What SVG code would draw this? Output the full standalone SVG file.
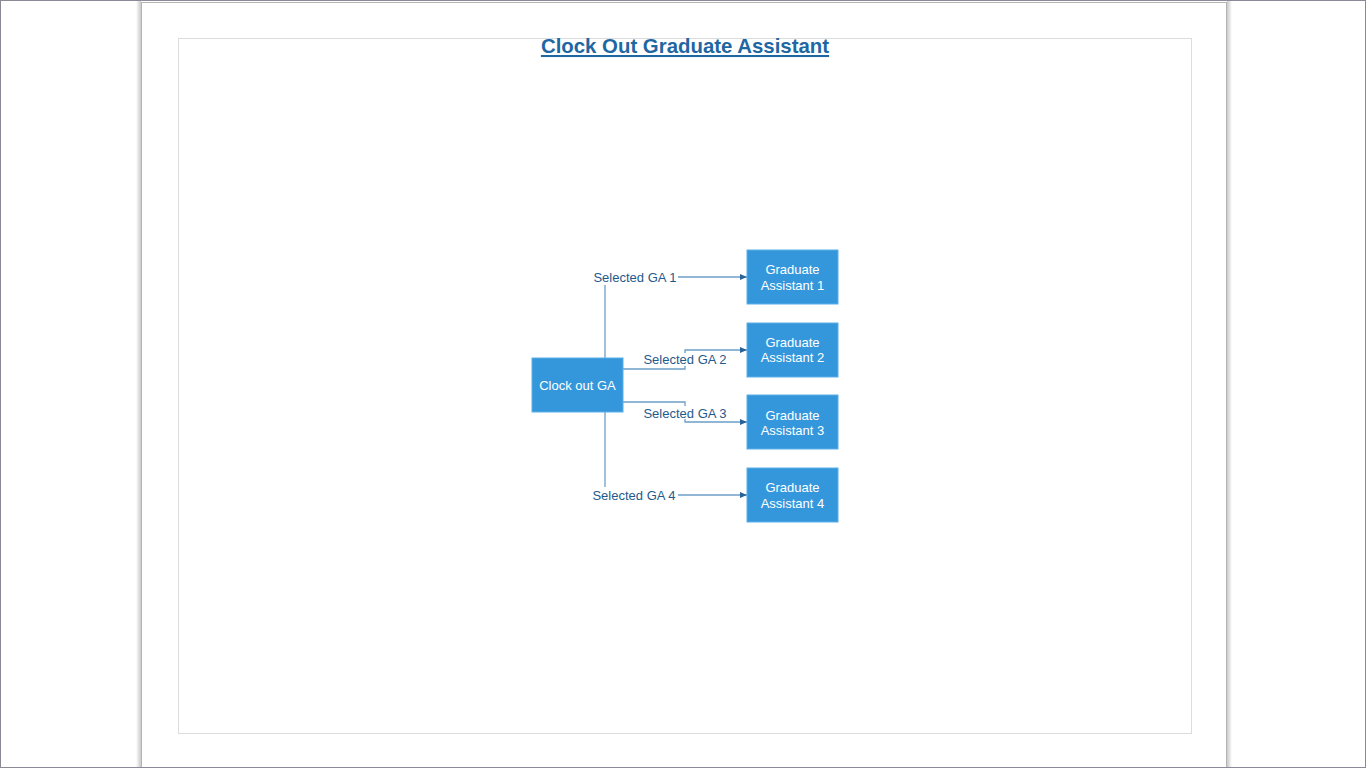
<svg xmlns="http://www.w3.org/2000/svg" width="1366" height="768" viewBox="0 0 1366 768">
<style>
.node rect{fill:#3597db;stroke:#5aaee6;stroke-width:1}
.node text{fill:#ffffff;font-family:"Liberation Sans",Arial,sans-serif;font-size:13px;text-anchor:middle}
.conn path{fill:none;stroke:#6c9ec8;stroke-width:1.3}
.lbl{fill:#1f5a8c;font-family:"Liberation Sans",Arial,sans-serif;font-size:13px;text-anchor:middle}
.lblbg{fill:#ffffff}
</style>
<defs>
<marker id="arr" markerWidth="8" markerHeight="8" refX="7" refY="4" orient="auto" markerUnits="userSpaceOnUse">
<path d="M0,1 L7,4 L0,7 z" fill="#2a6398"/>
</marker>
<linearGradient id="shL" x1="0" x2="1" y1="0" y2="0"><stop offset="0" stop-color="#ffffff"/><stop offset="1" stop-color="#c8c8c8"/></linearGradient>
<linearGradient id="shR" x1="0" x2="1" y1="0" y2="0"><stop offset="0" stop-color="#c8c8c8"/><stop offset="1" stop-color="#ffffff"/></linearGradient>
</defs>
<rect x="0" y="0" width="1366" height="768" fill="#ffffff"/>
<rect x="136" y="0" width="5" height="768" fill="url(#shL)"/>
<rect x="1227" y="0" width="5" height="768" fill="url(#shR)"/>
<rect x="141.5" y="2.5" width="1085" height="770" fill="#ffffff" stroke="#b4b4b4" stroke-width="1"/>
<rect x="178.5" y="38.5" width="1013" height="695" fill="none" stroke="#dcdcdc" stroke-width="1"/>
<rect x="0.5" y="0.5" width="1365" height="767" fill="none" stroke="#8a8a96" stroke-width="1"/>
<text x="685" y="53" font-family="Liberation Sans,Arial,sans-serif" font-size="20.4" font-weight="bold" fill="#1f67a3" text-anchor="middle" text-decoration="underline">Clock Out Graduate Assistant</text>
<g class="conn" id="connectors">
<path d="M605,358 V285" />
<path d="M678,277 H747" marker-end="url(#arr)"/>
<path d="M623,369 H685 V350 H747" marker-end="url(#arr)"/>
<path d="M623,402 H685 V422 H747" marker-end="url(#arr)"/>
<path d="M605,412 V487" />
<path d="M678,495 H747" marker-end="url(#arr)"/>
<rect class="lblbg" x="643" y="353" width="85" height="13"/>
<rect class="lblbg" x="643" y="406" width="85" height="13"/>
<text class="lbl" x="635" y="282">Selected GA 1</text>
<text class="lbl" x="685" y="364">Selected GA 2</text>
<text class="lbl" x="685" y="418">Selected GA 3</text>
<text class="lbl" x="634" y="500">Selected GA 4</text>
</g>
<g class="node" id="clockout"><rect x="532" y="358" width="91" height="54"/><text x="577.5" y="390">Clock out GA</text></g>
<g class="node" id="ga1"><rect x="747" y="250" width="91" height="54"/><text x="792.5" y="274">Graduate</text><text x="792.5" y="290">Assistant 1</text></g>
<g class="node" id="ga2"><rect x="747" y="323" width="91" height="54"/><text x="792.5" y="347">Graduate</text><text x="792.5" y="362">Assistant 2</text></g>
<g class="node" id="ga3"><rect x="747" y="395" width="91" height="54"/><text x="792.5" y="420">Graduate</text><text x="792.5" y="435">Assistant 3</text></g>
<g class="node" id="ga4"><rect x="747" y="468" width="91" height="54"/><text x="792.5" y="492">Graduate</text><text x="792.5" y="508">Assistant 4</text></g>
</svg>
